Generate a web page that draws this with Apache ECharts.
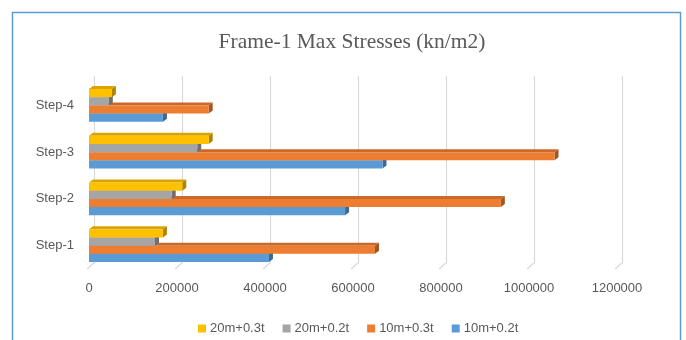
<!DOCTYPE html>
<html>
<head>
<meta charset="utf-8">
<script src="https://cdn.jsdelivr.net/npm/echarts@6/dist/echarts.min.js"></script>
<style>
  html, body { margin: 0; padding: 0; background: #ffffff; }
  #chart { width: 686px; height: 340px; }
</style>
</head>
<body>
<div id="chart"></div>
<script>
// Categories (bottom to top on the category axis)
var steps = ['Step-1', 'Step-2', 'Step-3', 'Step-4'];

// Max stresses per step, kN/m2
var s20m03t = [168000, 212000, 272000, 52000];
var s20m02t = [150000, 188000, 246000, 45000];
var s10m03t = [650000, 936000, 1058000, 272000];
var s10m02t = [409000, 582000, 667000, 168000];

// Value axis ticks
var tickValues = [0, 200000, 400000, 600000, 800000, 1000000, 1200000];

var seriesDefs = [
  { name: '20m+0.3t', values: s20m03t, color: '#ffc000', top: '#d9a300', side: '#b08400' },
  { name: '20m+0.2t', values: s20m02t, color: '#a5a5a5', top: '#8c8c8c', side: '#6f6f6f' },
  { name: '10m+0.3t', values: s10m03t, color: '#ed7d31', top: '#c9692a', side: '#a35522' },
  { name: '10m+0.2t', values: s10m02t, color: '#5b9bd5', top: '#4d84b5', side: '#3d6a92' }
];

var DX = 4, DY = -3;          // depth of the 3D bars
var GROUP_RATIO = 0.705;      // share of the category band taken by a group

function makeRenderer(slot, def) {
  return function (params, api) {
    var val = api.value(0);
    var cat = api.value(1);
    var p0 = api.coord([0, cat]);
    var p1 = api.coord([val, cat]);
    var band = api.size([0, 1])[1];
    var group = band * GROUP_RATIO;
    var h = group / 4;
    var y = p0[1] - group / 2 + slot * h;
    var x0 = p0[0], x1 = p1[0];
    return {
      type: 'group',
      children: [
        { type: 'polygon', shape: { points: [[x0, y], [x0 + DX, y + DY], [x1 + DX, y + DY], [x1, y]] },
          style: { fill: def.top } },
        { type: 'polygon', shape: { points: [[x1, y], [x1 + DX, y + DY], [x1 + DX, y + h + DY], [x1, y + h]] },
          style: { fill: def.side } },
        { type: 'rect', shape: { x: x0, y: y, width: x1 - x0, height: h },
          style: { fill: def.color } }
      ]
    };
  };
}

var series = seriesDefs.map(function (def, i) {
  return {
    type: 'custom',
    name: def.name,
    xAxisIndex: 0,
    yAxisIndex: 0,
    z: 10 - i,
    itemStyle: { color: def.color },
    encode: { x: 0, y: 1 },
    data: def.values.map(function (v, k) { return [v, k]; }),
    renderItem: makeRenderer(i, def)
  };
});

// slanted floor ticks joining the back wall gridlines to the front axis
series.push({
  type: 'custom',
  name: 'floor',
  xAxisIndex: 0,
  yAxisIndex: 0,
  silent: true,
  z: 1,
  encode: { x: 0 },
  data: tickValues.map(function (v) { return [v]; }),
  renderItem: function (params, api) {
    var p = api.coord([api.value(0), 0]);
    var cs = params.coordSys;
    var yb = cs.y + cs.height;
    return {
      type: 'line',
      shape: { x1: p[0] + 6, y1: yb - 7, x2: p[0] - 2, y2: yb },
      style: { stroke: '#d9d9d9', lineWidth: 1.2 }
    };
  }
});

var chart = echarts.init(document.getElementById('chart'), null, { renderer: 'canvas' });
chart.setOption({
  backgroundColor: '#ffffff',
  animation: false,
  title: {
    text: 'Frame-1 Max Stresses (kn/m2)',
    left: 347,
    textAlign: 'center',
    top: 26,
    textStyle: { fontFamily: 'Liberation Serif', fontSize: 21.5, fontWeight: 'normal', color: '#595959' }
  },
  legend: {
    data: seriesDefs.map(function (d) { return d.name; }),
    left: 193,
    top: 317,
    icon: 'rect',
    itemWidth: 8,
    itemHeight: 8,
    itemGap: 18,
    textStyle: { fontFamily: 'Liberation Sans', fontSize: 13, color: '#595959', padding: [0, 0, 0, -1] }
  },
  graphic: [{
    type: 'rect',
    shape: { x: 12.5, y: 12.5, width: 668, height: 340 },
    style: { fill: 'none', stroke: '#5b9bd5', lineWidth: 1.5 },
    silent: true
  }],
  grid: [
    { left: 89, top: 82, width: 528, height: 187 },
    { left: 94, top: 76, width: 528, height: 186 }
  ],
  xAxis: [
    {
      gridIndex: 0, type: 'value', min: 0, max: 1200000, interval: 200000,
      axisLine: { show: false }, axisTick: { show: false }, splitLine: { show: false },
      axisLabel: {
        margin: 13, color: '#595959', fontFamily: 'Liberation Sans', fontSize: 13,
        formatter: function (v) { return String(v); }
      }
    },
    {
      gridIndex: 1, type: 'value', min: 0, max: 1200000, interval: 200000,
      axisLine: { show: false }, axisTick: { show: false }, axisLabel: { show: false },
      splitLine: { show: true, lineStyle: { color: '#d9d9d9', width: 1.2 } }
    }
  ],
  yAxis: [
    {
      gridIndex: 0, type: 'category', data: steps,
      axisLine: { show: false }, axisTick: { show: false },
      axisLabel: { margin: 15, color: '#595959', fontFamily: 'Liberation Sans', fontSize: 13 }
    },
    {
      gridIndex: 1, type: 'category', data: steps, show: false
    }
  ],
  series: series
});
</script>
</body>
</html>
